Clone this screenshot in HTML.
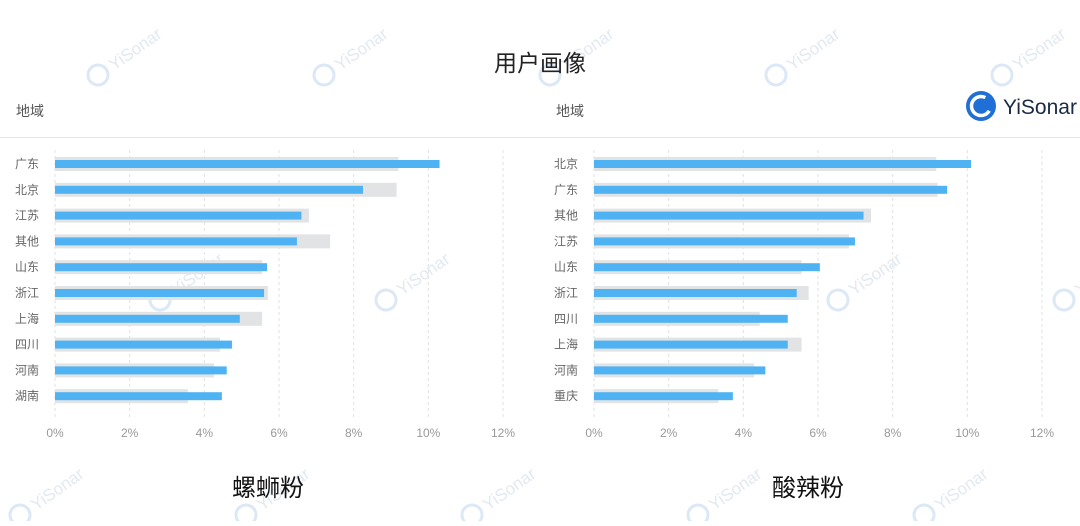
<!DOCTYPE html>
<html><head><meta charset="utf-8"><style>
html,body{margin:0;padding:0;background:#fff;}
body{width:1080px;height:521px;overflow:hidden;font-family:"Liberation Sans","Noto Sans CJK SC",sans-serif;}
</style></head><body>
<svg id="svg" width="1080" height="521" viewBox="0 0 1080 521" xmlns="http://www.w3.org/2000/svg" style="font-family:'Liberation Sans','Noto Sans CJK SC',sans-serif">
<g id="wm"></g>
<text x="540" y="71" text-anchor="middle" font-size="23" fill="#222">用户画像</text>
<text x="16" y="116" font-size="14" fill="#555">地域</text>
<text x="556" y="116" font-size="14" fill="#555">地域</text>
<line x1="0" y1="137.5" x2="1080" y2="137.5" stroke="#e6e6e6"/>
<g>
<circle cx="981" cy="106" r="15" fill="#1f6fd6"/>
<circle cx="981" cy="106" r="9.5" fill="none" stroke="#fff" stroke-width="3.5" stroke-dasharray="44 16" transform="rotate(30 981 106)"/>
<text x="1003" y="114" font-size="21" fill="#1a2a44">YiSonar</text>
</g>
<g id="left"></g>
<g id="right"></g>
<text x="268" y="496" text-anchor="middle" font-size="24" fill="#111">螺蛳粉</text>
<text x="808" y="496" text-anchor="middle" font-size="24" fill="#111">酸辣粉</text>
</svg>
<script>
const leftCategories=["广东","北京","江苏","其他","山东","浙江","上海","四川","河南","湖南"];
const leftBlue=[10.3,8.25,6.6,6.48,5.68,5.6,4.95,4.74,4.6,4.47];
const leftGray=[9.2,9.15,6.8,7.37,5.55,5.7,5.55,4.42,4.26,3.56];
const rightCategories=["北京","广东","其他","江苏","山东","浙江","四川","上海","河南","重庆"];
const rightBlue=[10.1,9.46,7.22,6.99,6.05,5.43,5.19,5.19,4.59,3.72];
const rightGray=[9.17,9.2,7.42,6.83,5.56,5.75,4.44,5.56,4.29,3.33];
const ticks=[0,2,4,6,8,10,12];
const tickLabels=["0%","2%","4%","6%","8%","10%","12%"];
const NS="http://www.w3.org/2000/svg";
function mk(tag,attrs,parent){const e=document.createElementNS(NS,tag);for(const k in attrs)e.setAttribute(k,attrs[k]);parent.appendChild(e);return e;}
function draw(g,x0,cats,blue,gray){
  const pxPer=(503-55)/12;
  const x=v=>x0+v*pxPer;
  const y=i=>164+i*25.8;
  ticks.forEach((t,i)=>{
    const l=mk('line',{x1:x(t),x2:x(t),y1:150,y2:420,stroke:'#e2e2e2','stroke-dasharray':'3 3'},g);
    
    
    const tx=mk('text',{x:x(t),y:437,'text-anchor':'middle','font-size':12,fill:'#999'},g);
    tx.textContent=tickLabels[i];
    
    
  });
  cats.forEach((c,i)=>{
    const gr=mk('rect',{x:x(0),y:y(i)-7,width:x(gray[i])-x(0),height:14,fill:'#e2e3e5'},g);
    
    
    const b=mk('rect',{x:x(0),y:y(i)-4,width:x(blue[i])-x(0),height:8,fill:'#4fb3f3'},g);
    
    
    const t=mk('text',{x:x0-16,y:y(i)+4,'text-anchor':'end','font-size':12,fill:'#666'},g);
    t.textContent=c;
    
    
  });
}
draw(document.getElementById('left'),55,leftCategories,leftBlue,leftGray);
draw(document.getElementById('right'),594,rightCategories,rightBlue,rightGray);
const wm=document.getElementById('wm');
[[98,75],[324,75],[550,75],[776,75],[1002,75],[160,300],[386,300],[838,300],[1064,300],[20,515],[246,515],[472,515],[698,515],[924,515]].forEach(p=>{
  const c=mk('circle',{cx:p[0],cy:p[1],r:10,fill:'none',stroke:'#dce8f6','stroke-width':3},wm);
  
  
  const t=mk('text',{x:p[0]+16,y:p[1]-4,'font-size':17,fill:'#e3e9f1',transform:`rotate(-35 ${p[0]+16} ${p[1]-4})`},wm);
  t.textContent='YiSonar';
  
  
});
</script>
</body></html>
